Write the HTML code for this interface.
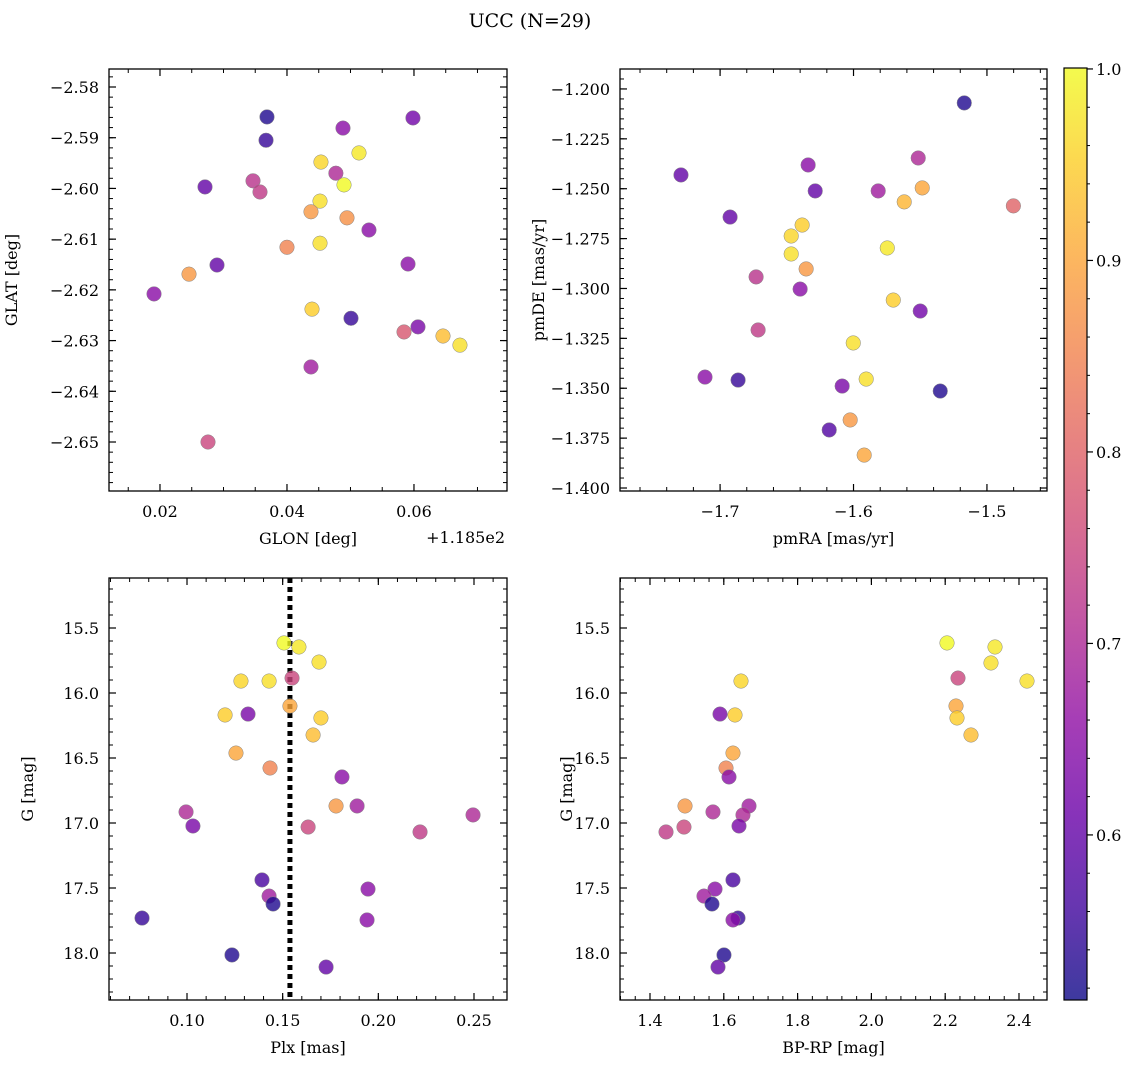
<!DOCTYPE html>
<html><head><meta charset="utf-8"><style>
html,body{margin:0;padding:0;background:#fff}
svg text{font-family:"DejaVu Serif","Liberation Serif",serif;fill:#000}
</style></head><body>
<svg id="chart" width="1136" height="1068" viewBox="0 0 1136 1068" xmlns="http://www.w3.org/2000/svg">
<text x="530" y="27" font-size="19" text-anchor="middle">UCC (N=29)</text>
</svg>
<script>
// ---- data ----
const glon = [0.03685,0.0367,0.05984,0.04882,0.05134,0.04535,0.0477,0.02709,0.03465,0.03575,0.04898,0.0452,0.04378,0.04945,0.05291,0.0452,0.04,0.02898,0.02457,0.05906,0.01906,0.04394,0.05008,0.06063,0.05843,0.06457,0.06724,0.04378,0.02756];
const glat = [-2.5859,-2.5905,-2.5861,-2.5881,-2.593,-2.5948,-2.597,-2.5997,-2.5985,-2.6007,-2.5993,-2.6025,-2.6046,-2.6058,-2.6082,-2.6108,-2.6116,-2.6151,-2.6169,-2.6149,-2.6208,-2.6238,-2.6256,-2.6273,-2.6283,-2.6291,-2.6309,-2.6352,-2.65];
const probA = [0.53,0.55,0.62,0.65,0.98,0.96,0.7,0.6,0.72,0.73,1.0,0.97,0.88,0.87,0.65,0.97,0.85,0.6,0.88,0.65,0.65,0.95,0.55,0.63,0.78,0.93,0.97,0.68,0.75];

const pmra = [-1.517,-1.7293,-1.634,-1.5515,-1.6287,-1.5815,-1.5485,-1.562,-1.4802,-1.6925,-1.6385,-1.6467,-1.6467,-1.5747,-1.6355,-1.673,-1.64,-1.5702,-1.55,-1.6715,-1.6002,-1.7113,-1.6865,-1.5905,-1.6085,-1.535,-1.6025,-1.6182,-1.592];
const pmde = [-1.207,-1.2431,-1.2381,-1.2346,-1.2511,-1.2511,-1.2496,-1.2566,-1.2586,-1.2642,-1.2682,-1.2737,-1.2827,-1.2797,-1.2902,-1.2942,-1.3003,-1.3058,-1.3113,-1.3208,-1.3273,-1.3444,-1.3459,-1.3454,-1.3489,-1.3514,-1.3659,-1.3709,-1.3835];
const probB = [0.53,0.6,0.65,0.7,0.6,0.68,0.9,0.92,0.8,0.6,0.95,0.96,0.97,0.98,0.88,0.72,0.65,0.95,0.62,0.73,0.97,0.65,0.55,0.97,0.63,0.53,0.88,0.58,0.9];

const plx = [0.1507,0.1585,0.169,0.1549,0.1282,0.1429,0.1538,0.1199,0.1319,0.17,0.1659,0.1256,0.1434,0.181,0.1779,0.1889,0.0995,0.2495,0.1031,0.1633,0.2218,0.1392,0.1946,0.1429,0.145,0.0765,0.1941,0.1235,0.1727];
const gmag = [15.615,15.646,15.762,15.885,15.908,15.908,16.1,16.169,16.162,16.192,16.323,16.462,16.577,16.646,16.869,16.869,16.915,16.938,17.023,17.031,17.069,17.438,17.508,17.562,17.623,17.731,17.746,18.015,18.108];
const probC = [1.0,0.98,0.97,0.75,0.96,0.97,0.9,0.95,0.63,0.95,0.93,0.9,0.85,0.65,0.88,0.68,0.7,0.7,0.63,0.75,0.73,0.57,0.65,0.68,0.53,0.55,0.65,0.53,0.6];
const plxMedian = 0.1538;

const bprp = [2.2049,2.335,2.3241,2.2347,2.4217,1.6466,2.2293,2.232,2.2699,1.5897,1.6304,1.6249,1.606,1.6141,1.4949,1.6683,1.5707,1.652,1.6412,1.4921,1.4434,1.6249,1.5762,1.5463,1.568,1.6385,1.6249,1.6005,1.5843];
const gmag2 = [15.615,15.646,15.769,15.885,15.908,15.908,16.1,16.192,16.323,16.162,16.169,16.462,16.577,16.646,16.869,16.869,16.915,16.938,17.023,17.031,17.069,17.438,17.508,17.562,17.623,17.731,17.746,18.015,18.108];
const probD = [1.0,0.98,0.97,0.75,0.97,0.96,0.9,0.95,0.93,0.63,0.95,0.9,0.85,0.65,0.88,0.68,0.7,0.7,0.63,0.75,0.73,0.57,0.65,0.68,0.53,0.55,0.65,0.53,0.6];

const cbTicks = [0.6,0.7,0.8,0.9,1.0];
const cMin = 0.5138, cMax = 1.0005;

// ---- helpers ----
const NS="http://www.w3.org/2000/svg";
const svg=document.getElementById('chart');
function mk(tag,at,parent){const e=document.createElementNS(NS,tag);for(const k in at)e.setAttribute(k,at[k]);(parent||svg).appendChild(e);return e;}
const stops=[[13,8,135],[65,4,157],[106,0,168],[143,13,164],[177,42,144],[204,71,120],[225,100,98],[242,132,75],[252,166,54],[252,206,37],[240,249,33]];
function plasma(t){t=Math.max(0,Math.min(1,t))*10;const i=Math.min(9,Math.floor(t)),f=t-i;const a=stops[i],b=stops[i+1];return `rgb(${a.map((v,k)=>Math.round(v+(b[k]-v)*f)).join(',')})`;}
function colorOf(p){return plasma((p-cMin)/(cMax-cMin));}
function fmt(v,d){return (v<0?'\u2212':'')+Math.abs(v).toFixed(d);}
const FS=16;

function panel(cfg){
  const g=mk('g',{});
  
  
  const {x0,x1,y0,y1,xmin,xmax,ymin,ymax,invY}=cfg;
  const sx=v=>x0+(v-xmin)/(xmax-xmin)*(x1-x0);
  const sy=v=>invY? y0+(v-ymin)/(ymax-ymin)*(y1-y0) : y1-(v-ymin)/(ymax-ymin)*(y1-y0);
  const eps=1e-9;
  for(let v=Math.ceil(xmin/cfg.xmin_step-eps)*cfg.xmin_step; v<=xmax+eps; v+=cfg.xmin_step){const X=sx(v);
    mk('line',{x1:X,x2:X,y1:y1,y2:y1-4,stroke:'#000','stroke-width':1},g);mk('line',{x1:X,x2:X,y1:y0,y2:y0+4,stroke:'#000','stroke-width':1},g);}
  for(let v=Math.ceil(ymin/cfg.ymin_step-eps)*cfg.ymin_step; v<=ymax+eps; v+=cfg.ymin_step){const Y=sy(v);
    mk('line',{x1:x0,x2:x0+4,y1:Y,y2:Y,stroke:'#000','stroke-width':1},g);mk('line',{x1:x1,x2:x1-4,y1:Y,y2:Y,stroke:'#000','stroke-width':1},g);}
  for(const v of cfg.xticks){const X=sx(v);
    mk('line',{x1:X,x2:X,y1:y1,y2:y1-7,stroke:'#000','stroke-width':1.2},g);mk('line',{x1:X,x2:X,y1:y0,y2:y0+7,stroke:'#000','stroke-width':1.2},g);
    const t=mk('text',{x:X,y:y1+26,'font-size':FS,'text-anchor':'middle'},g);t.textContent=fmt(v,cfg.xd);
    }
  for(const v of cfg.yticks){const Y=sy(v);
    mk('line',{x1:x0,x2:x0+7,y1:Y,y2:Y,stroke:'#000','stroke-width':1.2},g);mk('line',{x1:x1,x2:x1-7,y1:Y,y2:Y,stroke:'#000','stroke-width':1.2},g);
    const t=mk('text',{x:x0-10,y:Y+6,'font-size':FS,'text-anchor':'end'},g);t.textContent=fmt(v,cfg.yd);
    }
  if(cfg.vline!==undefined){const X=sx(cfg.vline);
    const l=mk('line',{x1:X,x2:X,y1:y0,y2:y1,stroke:'#000','stroke-width':5,'stroke-dasharray':'5,4'},g);
    }
  cfg.xs.forEach((xv,i)=>{
    const c=mk('circle',{cx:sx(xv),cy:sy(cfg.ys[i]),r:7.3,fill:colorOf(cfg.cs[i]),'fill-opacity':0.8,stroke:'#888','stroke-width':0.5},g);
    
    
  });
  const fr=mk('rect',{x:x0,y:y0,width:x1-x0,height:y1-y0,fill:'none',stroke:'#000','stroke-width':1.3},g);
  
  const xl=mk('text',{x:(x0+x1)/2,y:y1+53,'font-size':FS,'text-anchor':'middle'},g);xl.textContent=cfg.xlabel;
  
  const yl=mk('text',{x:0,y:0,'font-size':FS,'text-anchor':'middle',transform:`translate(${cfg.ylx},${(y0+y1)/2}) rotate(-90)`},g);yl.textContent=cfg.ylabel;
  
}

panel({name:'glon-glat-panel',x0:109,x1:507,y0:69,y1:491,xmin:0.01197,xmax:0.07465,ymin:-2.65966,ymax:-2.57645,
  xticks:[0.02,0.04,0.06],xd:2,xmin_step:0.005,yticks:[-2.58,-2.59,-2.60,-2.61,-2.62,-2.63,-2.64,-2.65],yd:2,ymin_step:0.002,
  xs:glon,ys:glat,cs:probA,xlabel:'GLON [deg]',ylabel:'GLAT [deg]',ylx:17});
const off=mk('text',{x:505,y:543,'font-size':FS,'text-anchor':'end'});off.textContent='+1.185e2';


panel({name:'proper-motion-panel',x0:620,x1:1047,y0:69,y1:491,xmin:-1.775,xmax:-1.455,ymin:-1.4015,ymax:-1.19,
  xticks:[-1.7,-1.6,-1.5],xd:1,xmin_step:0.02,yticks:[-1.2,-1.225,-1.25,-1.275,-1.3,-1.325,-1.35,-1.375,-1.4],yd:3,ymin_step:0.005,
  xs:pmra,ys:pmde,cs:probB,xlabel:'pmRA [mas/yr]',ylabel:'pmDE [mas/yr]',ylx:544});

panel({name:'plx-g-panel',x0:109,x1:507,y0:578,y1:1000,xmin:0.05923,xmax:0.26725,ymin:15.1154,ymax:18.3615,invY:true,
  xticks:[0.10,0.15,0.20,0.25],xd:2,xmin_step:0.01,yticks:[15.5,16,16.5,17,17.5,18],yd:1,ymin_step:0.1,
  xs:plx,ys:gmag,cs:probC,xlabel:'Plx [mas]',ylabel:'G [mag]',ylx:33,vline:plxMedian});

panel({name:'cmd-panel',x0:620,x1:1047,y0:578,y1:1000,xmin:1.3187,xmax:2.4759,ymin:15.1154,ymax:18.3615,invY:true,
  xticks:[1.4,1.6,1.8,2.0,2.2,2.4],xd:1,xmin_step:0.04,yticks:[15.5,16,16.5,17,17.5,18],yd:1,ymin_step:0.1,
  xs:bprp,ys:gmag2,cs:probD,xlabel:'BP-RP [mag]',ylabel:'G [mag]',ylx:572});

// colorbar
(function(){
  const cx0=1064,cx1=1087,cy0=68,cy1=1000;
  const g=mk('g',{});
  const defs=mk('defs',{},g);const lg=mk('linearGradient',{id:'pl',x1:0,y1:1,x2:0,y2:0},defs);
  for(let i=0;i<=20;i++){mk('stop',{offset:i/20,'stop-color':plasma(i/20),'stop-opacity':0.8},lg);}
  mk('rect',{x:cx0,y:cy0,width:cx1-cx0,height:cy1-cy0,fill:'url(#pl)',stroke:'#000','stroke-width':1.2},g);
  const sy=v=>cy1-(v-cMin)/(cMax-cMin)*(cy1-cy0);
  for(let v=0.52;v<=1.0001;v+=0.02){const Y=sy(v);mk('line',{x1:cx1,x2:cx1+3,y1:Y,y2:Y,stroke:'#000','stroke-width':1},g);}
  cbTicks.forEach(v=>{const Y=sy(v);mk('line',{x1:cx1,x2:cx1+6,y1:Y,y2:Y,stroke:'#000','stroke-width':1.2},g);
    const t=mk('text',{x:cx1+9,y:Y+6,'font-size':FS},g);t.textContent=v.toFixed(1);
    });
})();
</script>
</body></html>
